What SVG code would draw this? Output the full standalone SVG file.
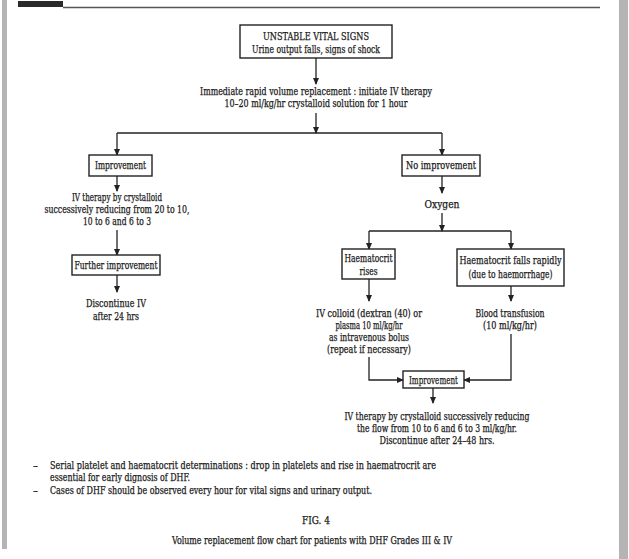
<svg xmlns="http://www.w3.org/2000/svg" width="629" height="559" viewBox="0 0 629 559">
<defs>
<marker id="ah" viewBox="0 0 8 8" refX="7" refY="4" markerWidth="7" markerHeight="7" markerUnits="userSpaceOnUse" orient="auto">
<path d="M0,0.5 L8,4 L0,7.5 Z" fill="#222"/>
</marker>
<style>
text{font-family:"DejaVu Serif Condensed","DejaVu Serif","Liberation Serif",serif;font-size:11px;fill:#1a1a1a;stroke:#1a1a1a;stroke-width:0.25;text-anchor:middle}
.l{text-anchor:start}
.box{fill:#fff;stroke:#222;stroke-width:1.4}
.c{fill:none;stroke:#222;stroke-width:1.3}
.a{marker-end:url(#ah)}
</style>
</defs>
<rect width="629" height="559" fill="#fff"/>
<rect x="2" y="0" width="5" height="549" fill="#b4b4b4"/>
<rect x="619" y="0" width="9" height="559" fill="#b4b4b4"/>
<rect x="18" y="1" width="45" height="6" fill="#2a2a2a"/>
<line x1="63" y1="7.5" x2="600" y2="7.5" stroke="#555" stroke-width="1.5"/>

<g id="connectors">
<line class="c a" x1="316" y1="58" x2="316" y2="84"/>
<line class="c a" x1="316" y1="113" x2="316" y2="133"/>
<polyline class="c" points="117,133 442,133"/>
<line class="c a" x1="117" y1="133" x2="117" y2="155"/>
<line class="c a" x1="442" y1="133" x2="442" y2="155"/>
<line class="c a" x1="117" y1="176" x2="117" y2="191"/>
<line class="c a" x1="117" y1="230" x2="117" y2="255"/>
<line class="c a" x1="117" y1="275" x2="117" y2="292"/>
<line class="c a" x1="442" y1="176" x2="442" y2="193"/>
<line class="c a" x1="442" y1="213" x2="442" y2="231"/>
<polyline class="c" points="369,231 511,231"/>
<line class="c a" x1="369" y1="231" x2="369" y2="249"/>
<line class="c a" x1="511" y1="231" x2="511" y2="249"/>
<line class="c a" x1="369" y1="279" x2="369" y2="301"/>
<line class="c a" x1="511" y1="286" x2="511" y2="301"/>
<polyline class="c a" points="369,357 369,380 403,380"/>
<polyline class="c a" points="511,334 511,380 464,380"/>
<line class="c a" x1="433" y1="388" x2="433" y2="403"/>
</g>

<g id="n-unstable">
<rect class="box" x="240" y="25" width="152" height="33"/>
<text x="316" y="40" textLength="106" lengthAdjust="spacingAndGlyphs">UNSTABLE VITAL SIGNS</text>
<text x="316" y="53" textLength="128" lengthAdjust="spacingAndGlyphs">Urine output falls, signs of shock</text>
</g>
<g id="n-immediate">
<text x="316" y="95" textLength="232" lengthAdjust="spacingAndGlyphs">Immediate rapid volume replacement : initiate IV therapy</text>
<text x="316" y="107" textLength="183" lengthAdjust="spacingAndGlyphs">10–20 ml/kg/hr crystalloid solution for 1 hour</text>
</g>
<g id="n-improvement1">
<rect class="box" x="89" y="155" width="63" height="21"/>
<text x="120.5" y="169" textLength="51" lengthAdjust="spacingAndGlyphs">Improvement</text>
</g>
<g id="n-ivtherapy1">
<text x="117" y="201" textLength="90" lengthAdjust="spacingAndGlyphs">IV therapy by crystalloid</text>
<text x="117" y="213" textLength="145" lengthAdjust="spacingAndGlyphs">successively reducing from 20 to 10,</text>
<text x="117" y="225" textLength="68" lengthAdjust="spacingAndGlyphs">10 to 6 and 6 to 3</text>
</g>
<g id="n-further">
<rect class="box" x="72" y="255" width="88" height="20"/>
<text x="116" y="269" textLength="83" lengthAdjust="spacingAndGlyphs">Further improvement</text>
</g>
<g id="n-discontinue1">
<text x="116" y="307" textLength="60" lengthAdjust="spacingAndGlyphs">Discontinue IV</text>
<text x="116" y="320" textLength="46" lengthAdjust="spacingAndGlyphs">after 24 hrs</text>
</g>
<g id="n-noimprovement">
<rect class="box" x="402" y="155" width="78" height="21"/>
<text x="441" y="169" textLength="70" lengthAdjust="spacingAndGlyphs">No improvement</text>
</g>
<g id="n-oxygen">
<text x="442" y="208" textLength="35" lengthAdjust="spacingAndGlyphs">Oxygen</text>
</g>
<g id="n-hrises">
<rect class="box" x="342" y="249" width="53" height="30"/>
<text x="368.5" y="262" textLength="48" lengthAdjust="spacingAndGlyphs">Haematocrit</text>
<text x="368.5" y="275" textLength="18" lengthAdjust="spacingAndGlyphs">rises</text>
</g>
<g id="n-hfalls">
<rect class="box" x="457" y="249" width="107" height="37"/>
<text x="510.5" y="264" textLength="102" lengthAdjust="spacingAndGlyphs">Haematocrit falls rapidly</text>
<text x="510.5" y="278" textLength="84" lengthAdjust="spacingAndGlyphs">(due to haemorrhage)</text>
</g>
<g id="n-colloid">
<text x="369" y="317" textLength="106" lengthAdjust="spacingAndGlyphs">IV colloid (dextran (40) or</text>
<text x="369" y="329" textLength="67" lengthAdjust="spacingAndGlyphs">plasma 10 ml/kg/hr</text>
<text x="369" y="341" textLength="80" lengthAdjust="spacingAndGlyphs">as intravenous bolus</text>
<text x="369" y="353" textLength="84" lengthAdjust="spacingAndGlyphs">(repeat if necessary)</text>
</g>
<g id="n-blood">
<text x="510" y="317" textLength="69" lengthAdjust="spacingAndGlyphs">Blood transfusion</text>
<text x="510" y="329" textLength="54" lengthAdjust="spacingAndGlyphs">(10 ml/kg/hr)</text>
</g>
<g id="n-improvement2">
<rect class="box" x="403" y="371" width="61" height="17"/>
<text x="433.5" y="383.5" textLength="49" lengthAdjust="spacingAndGlyphs">Improvement</text>
</g>
<g id="n-ivtherapy2">
<text x="437" y="420" textLength="185" lengthAdjust="spacingAndGlyphs">IV therapy by crystalloid successively reducing</text>
<text x="437" y="432" textLength="160" lengthAdjust="spacingAndGlyphs">the flow from 10 to 6 and 6 to 3 ml/kg/hr.</text>
<text x="437" y="444" textLength="115" lengthAdjust="spacingAndGlyphs">Discontinue after 24–48 hrs.</text>
</g>
<g id="notes">
<text class="l" x="33" y="469">–</text>
<text class="l" x="50" y="469" textLength="386" lengthAdjust="spacingAndGlyphs">Serial platelet and haematocrit determinations : drop in platelets and rise in haematrocrit are</text>
<text class="l" x="50" y="481" textLength="140" lengthAdjust="spacingAndGlyphs">essential for early dignosis of DHF.</text>
<text class="l" x="33" y="494">–</text>
<text class="l" x="50" y="494" textLength="322" lengthAdjust="spacingAndGlyphs">Cases of DHF should be observed every hour for vital signs and urinary output.</text>
</g>
<g id="caption">
<text x="316" y="524" textLength="28" lengthAdjust="spacingAndGlyphs">FIG. 4</text>
<text x="312" y="544" textLength="280" lengthAdjust="spacingAndGlyphs">Volume replacement flow chart for patients with DHF Grades III &amp; IV</text>
</g>
</svg>
